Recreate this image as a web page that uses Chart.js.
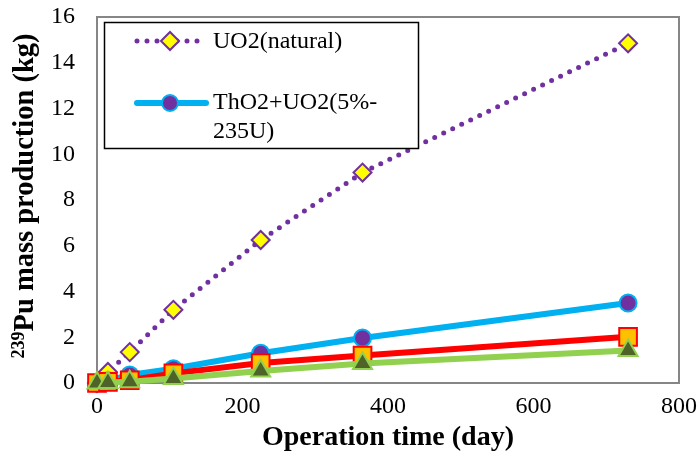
<!DOCTYPE html>
<html><head><meta charset="utf-8">
<script src="https://cdn.jsdelivr.net/npm/chart.js@4"></script>
<style>html,body{margin:0;padding:0;background:#fff}#wrap{width:699px;height:461px;position:relative}</style>
</head><body><div id="wrap"><canvas id="c" width="699" height="461"></canvas></div>
<script>
// ---- data ----
const days = [0, 15, 45, 105, 225, 365, 730];
const uo2Natural = [0, 0.48, 1.35, 3.2, 6.25, 9.2, 14.85];
const tho2Uo2 = [0, 0.1, 0.35, 0.62, 1.3, 1.97, 3.5];
const series3 = [0, 0.05, 0.12, 0.42, 0.87, 1.2, 2.02];
const series4 = [0, 0.02, 0.05, 0.2, 0.52, 0.85, 1.42];
const seriesNames = ['UO2(natural)', 'ThO2+UO2(5%-235U)', 'Series 3', 'Series 4'];
const legendLines = [['UO2(natural)'], ['ThO2+UO2(5%-', '235U)']];
const xTickValues = [0, 200, 400, 600, 800];
const yTickValues = [0, 2, 4, 6, 8, 10, 12, 14, 16];
const xTitle = 'Operation time (day)';
const yTitleSup = '239';
const yTitleMain = 'Pu mass production (kg)';

const SERIF = '"Liberation Serif", "Times New Roman", serif';
const PURPLE = '#7030A0', BLUE = '#00B0F0', RED = '#FF0000', GREEN = '#92D050';

const pts = arr => arr.map((v, i) => ({x: days[i], y: v}));

const datasets = [
  {label: seriesNames[0], data: pts(uo2Natural), borderColor: PURPLE, borderWidth: 5,
   borderDash: [0, 10], borderCapStyle: 'round', pointStyle: 'rectRot', pointRadius: 9,
   pointBackgroundColor: '#FFFF00', pointBorderColor: PURPLE, pointBorderWidth: 2, order: 3, clip: false},
  {label: seriesNames[1], data: pts(tho2Uo2), borderColor: BLUE, borderWidth: 6,
   pointStyle: 'circle', pointRadius: 8.5, pointBackgroundColor: PURPLE,
   pointBorderColor: BLUE, pointBorderWidth: 2, order: 2, clip: false},
  {label: seriesNames[2], data: pts(series3), borderColor: RED, borderWidth: 6,
   pointStyle: 'rect', pointRadius: 12.5, pointBackgroundColor: '#FFC000',
   pointBorderColor: RED, pointBorderWidth: 2, order: 1, clip: false},
  {label: seriesNames[3], data: pts(series4), borderColor: GREEN, borderWidth: 6,
   pointStyle: 'triangle', pointRadius: 11, pointBackgroundColor: '#4F6228',
   pointBorderColor: GREEN, pointBorderWidth: 2, order: 0, clip: false}
];

const framePlugin = {
  id: 'frame',
  beforeDatasetsDraw(chart) {
    const a = chart.chartArea, ctx = chart.ctx;
    ctx.save();
    ctx.strokeStyle = '#868686';
    ctx.lineWidth = 2;
    ctx.strokeRect(a.left, a.top, a.right - a.left, a.bottom - a.top);
    ctx.restore();
  },
  afterDraw(chart) {
    const ctx = chart.ctx, a = chart.chartArea;
    ctx.save();
    // legend box
    const lx = 104, ly = 22, lw = 314, lh = 126;
    ctx.fillStyle = '#fff';
    ctx.fillRect(lx, ly, lw, lh);
    ctx.strokeStyle = '#000';
    ctx.lineWidth = 1.5;
    ctx.strokeRect(lx + 0.5, ly + 0.5, lw, lh);
    // entry 1
    ctx.strokeStyle = PURPLE; ctx.lineWidth = 5; ctx.lineCap = 'round';
    ctx.setLineDash([0, 10]);
    ctx.beginPath(); ctx.moveTo(137, 41); ctx.lineTo(198, 41); ctx.stroke();
    ctx.setLineDash([]);
    ctx.fillStyle = '#FFFF00'; ctx.strokeStyle = PURPLE; ctx.lineWidth = 2;
    ctx.beginPath();
    ctx.moveTo(161, 41); ctx.lineTo(170, 32); ctx.lineTo(179, 41); ctx.lineTo(170, 50); ctx.closePath();
    ctx.fill(); ctx.stroke();
    // entry 2
    ctx.strokeStyle = BLUE; ctx.lineWidth = 6; ctx.lineCap = 'round';
    ctx.beginPath(); ctx.moveTo(137, 103); ctx.lineTo(206, 103); ctx.stroke();
    ctx.fillStyle = PURPLE; ctx.strokeStyle = BLUE; ctx.lineWidth = 2;
    ctx.beginPath(); ctx.arc(170, 103, 8, 0, Math.PI * 2); ctx.fill(); ctx.stroke();
    // legend text
    ctx.fillStyle = '#000';
    ctx.font = '24px ' + SERIF;
    ctx.textBaseline = 'middle'; ctx.textAlign = 'left';
    ctx.fillText(legendLines[0][0], 213, 42);
    ctx.fillText(legendLines[1][0], 213, 103);
    ctx.fillText(legendLines[1][1], 213, 132);
    // x title
    ctx.font = 'bold 28px ' + SERIF;
    ctx.textAlign = 'center';
    ctx.fillText(xTitle, (a.left + a.right) / 2, 438);
    // y title with superscript
    ctx.translate(26, 196);
    ctx.rotate(-Math.PI / 2);
    ctx.font = 'bold 18px ' + SERIF;
    const supW = ctx.measureText(yTitleSup).width;
    ctx.font = 'bold 28.5px ' + SERIF;
    const mainW = ctx.measureText(yTitleMain).width;
    const start = -(supW + mainW) / 2;
    ctx.textAlign = 'left';
    ctx.fillText(yTitleMain, start + supW, 0);
    ctx.font = 'bold 18px ' + SERIF;
    ctx.fillText(yTitleSup, start, -7);
    ctx.restore();
  }
};

new Chart(document.getElementById('c'), {
  type: 'line',
  data: {datasets},
  options: {
    responsive: false, animation: false, devicePixelRatio: 1,
    layout: {padding: {top: 17, right: 20, left: 0, bottom: 0}},
    plugins: {legend: {display: false}, tooltip: {enabled: false}},
    scales: {
      x: {type: 'linear', min: 0, max: 800,
          afterBuildTicks: s => { s.ticks = xTickValues.map(v => ({value: v})); },
          afterFit: s => { s.height = 78; s.paddingLeft = 0; s.paddingRight = 0; },
          grid: {display: false, drawTicks: false},
          border: {display: false},
          ticks: {color: '#000', padding: 9, font: {family: SERIF, size: 24}, maxRotation: 0}},
      y: {type: 'linear', min: 0, max: 16,
          afterBuildTicks: s => { s.ticks = yTickValues.map(v => ({value: v})); },
          afterFit: s => { s.width = 97; s.paddingTop = 0; s.paddingBottom = 0; },
          grid: {display: false, drawTicks: false},
          border: {display: false},
          ticks: {color: '#000', padding: 22, font: {family: SERIF, size: 24}}}
    }
  },
  plugins: [framePlugin]
});
</script></body></html>
